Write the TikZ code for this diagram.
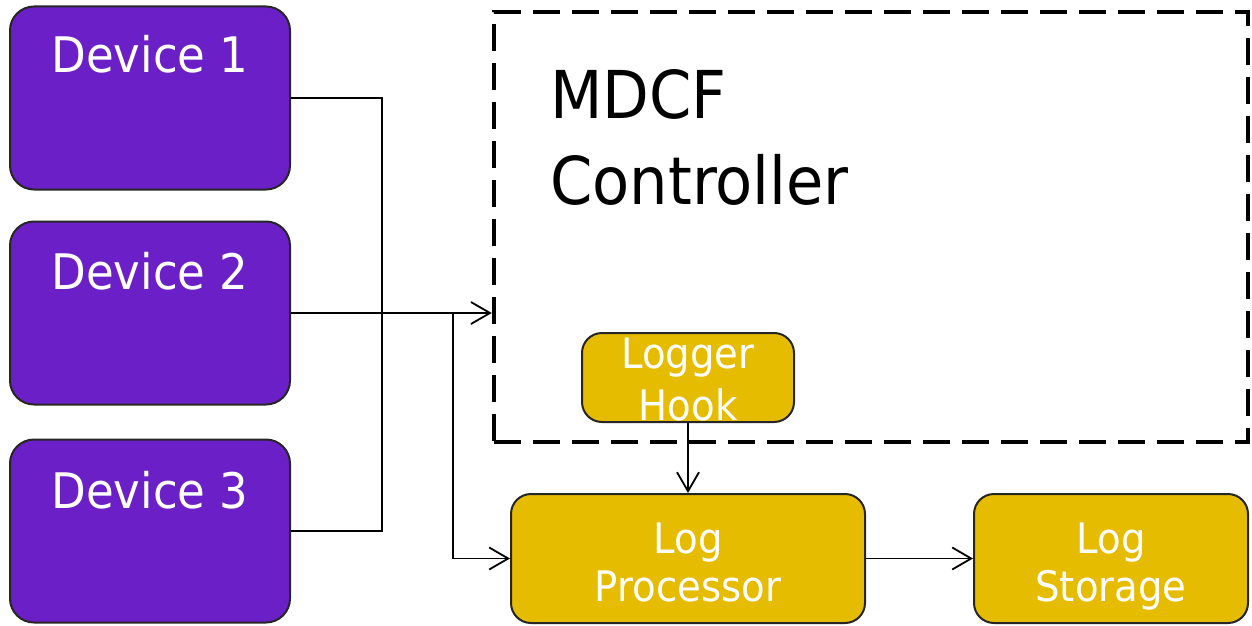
\documentclass[tikz,border=0pt]{standalone}
\usepackage{fontspec}
\setmainfont{DejaVu Sans}[FakeStretch=0.92]
\usetikzlibrary{arrows.meta}

\definecolor{devpurple}{RGB}{107,31,198}
\definecolor{loggold}{RGB}{229,188,0}

\tikzset{
  devbox/.style={draw=black!85, line width=2pt, fill=devpurple, rounded corners=24pt,
    minimum width=280pt, minimum height=183pt, inner sep=0pt},
  goldbox/.style={draw=black!85, line width=2pt, fill=loggold, rounded corners=20pt, inner sep=0pt},
  devtext/.style={text=white, anchor=base, inner sep=0pt, font=\fontsize{49}{58}\selectfont},
  goldtext/.style={text=white, anchor=base, inner sep=0pt, font=\fontsize{42}{50}\selectfont},
  ctrltext/.style={text=black, anchor=base west, inner sep=0pt, font=\fontsize{66}{80}\selectfont},
  ctrlbox/.style={draw=black, line width=4.5pt, dash pattern=on 27pt off 12pt,
    minimum width=754pt, minimum height=430pt, inner sep=0pt},
  wire/.style={line width=1.7pt, draw=black},
  arr/.style={wire, -{Straight Barb[length=19pt,width=22pt,line width=1.8pt]}}
}

\begin{document}
\begin{tikzpicture}[x=1pt, y=-1pt]
  \useasboundingbox (0,0) rectangle (1252,626);

  % devices
  \node[devbox] (d1) at (150,98) {};
  \node[devbox] (d2) at (150,313) {};
  \node[devbox] (d3) at (150,531) {};
  \node[devtext] (d1t) at (150,73) {Device 1};
  \node[devtext] (d2t) at (150,289) {Device 2};
  \node[devtext] (d3t) at (150,508) {Device 3};

  % controller frame
  \node[ctrlbox] (ctrl) at (871,227) {};
  \node[ctrltext] (ctrla) at (550,118) {MDCF};
  \node[ctrltext] (ctrlb) at (550,204) {Controller};

  % logging chain
  \node[goldbox, minimum width=212pt, minimum height=89pt] (lh) at (688,377.5) {};
  \node[goldtext] (lht1) at (688,368) {Logger};
  \node[goldtext] (lht2) at (688,420) {Hook};

  \node[goldbox, minimum width=354pt, minimum height=129pt] (lp) at (688,558.5) {};
  \node[goldtext] (lpt1) at (688,553) {Log};
  \node[goldtext] (lpt2) at (688,601) {Processor};

  \node[goldbox, minimum width=274pt, minimum height=129pt] (ls) at (1111,558.5) {};
  \node[goldtext] (lst1) at (1111,553) {Log};
  \node[goldtext] (lst2) at (1111,601) {Storage};

  % wiring
  \coordinate (bus) at (382,0);
  \coordinate (j) at (453,313);
  \draw[wire] (d1.east) -| (bus |- d3.east) -- (d3.east);
  \draw[arr] (d2.east) -- (ctrl.west |- d2.east);
  \draw[arr] (j) |- (lp.west);
  \draw[arr] (lh.south) -- (lp.north);
  \draw[arr] (lp.east) -- (ls.west);
\end{tikzpicture}
\end{document}
